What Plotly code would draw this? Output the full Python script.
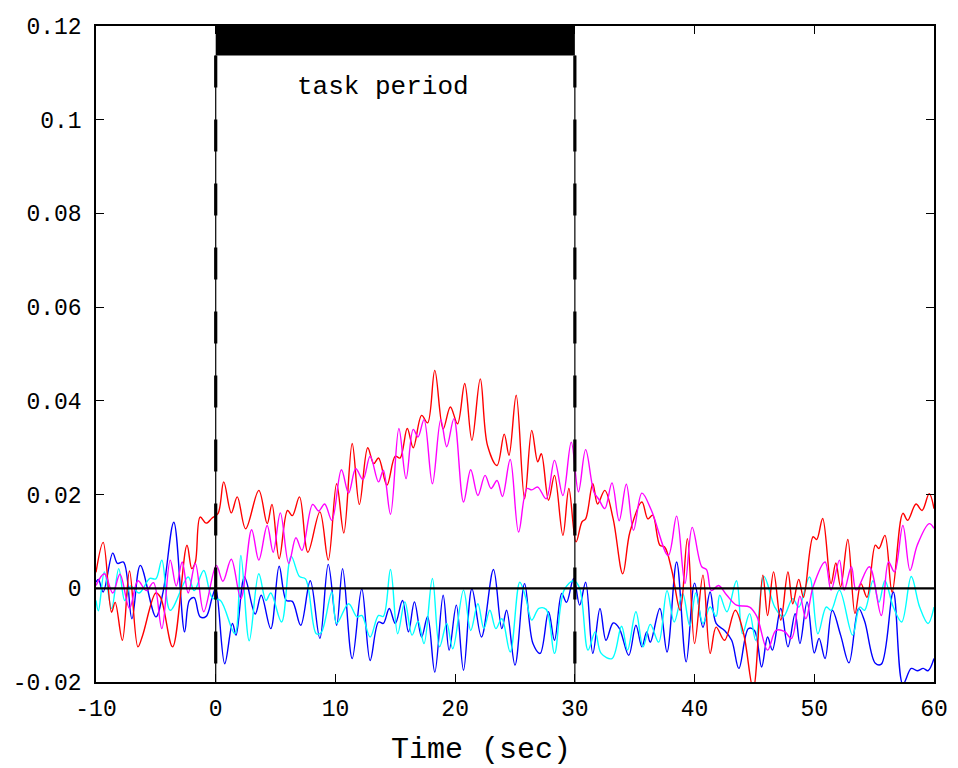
import plotly.graph_objects as go

# ---------------- data ----------------
task_start = 0
task_end = 30
task_label = "task period"
x_label = "Time (sec)"

x_ticks = [-10, 0, 10, 20, 30, 40, 50, 60]
y_ticks = [-0.02, 0, 0.02, 0.04, 0.06, 0.08, 0.1, 0.12]
y_ticktext = ["-0.02", "0", "0.02", "0.04", "0.06", "0.08", "0.1", "0.12"]

red_t = [-10.0, -9.4, -8.7, -8.4, -7.8, -7.2, -6.5, -6.1, -5.0, -4.6, -3.6, -2.4, -2.0, -1.7, -1.3, -0.8, -0.3, 0.2,
         0.67, 1.3, 1.8, 2.5, 3.6, 4.3, 4.7, 5.3, 6.0, 6.4, 7.0, 7.7, 8.7, 9.4, 10.1, 10.7, 11.4, 12.0, 12.7, 13.2,
         13.6, 14.3, 15.0, 15.4, 16.0, 16.5, 17.2, 17.7, 18.3, 19.0, 19.6, 20.2, 20.8, 21.4, 22.1, 22.7, 23.5, 24.1,
         24.5, 25.1, 25.8, 26.4, 26.9, 27.2, 27.8, 28.3, 29.0, 29.5, 30.1, 30.6, 30.9, 31.5, 31.9, 32.5, 33.2, 34.0,
         34.6, 35.6, 36.1, 36.5, 37.1, 37.5, 38.1, 38.8, 39.4, 40.0, 40.7, 41.3, 41.8, 42.5, 43.4, 44.1, 44.9, 45.7,
         46.1, 46.6, 47.2, 47.8, 48.2, 48.7, 49.1, 49.9, 50.2, 50.7, 51.4, 51.8, 52.2, 52.8, 53.4, 53.9, 54.4, 55.1,
         55.4, 55.9, 56.5, 57.4, 57.8, 58.5, 59.0, 59.6, 60.0]
red_v = [0.0034, 0.0098, -0.0051, -0.0030, -0.0111, 0.0037, -0.0125, -0.0100, -0.0010, -0.0020, -0.0125, 0.0092,
         0.0042, 0.0056, 0.0152, 0.0139, 0.0150, 0.0160,
         0.0227, 0.0161, 0.0195, 0.0127, 0.0209, 0.0138, 0.0179, 0.0063, 0.0166, 0.0155, 0.0195, 0.0077, 0.0163,
         0.0060, 0.0223, 0.0118, 0.0309, 0.0179, 0.0300, 0.0266,
         0.0278, 0.0220, 0.0282, 0.0278, 0.0341, 0.0300, 0.0369, 0.0353, 0.0465, 0.0340, 0.0387, 0.0351, 0.0437,
         0.0316, 0.0447, 0.0305, 0.0262, 0.0329,
         0.0284, 0.0412, 0.0191, 0.0337, 0.0270, 0.0287, 0.0188, 0.0241, 0.0113, 0.0213, 0.0099, 0.0142, 0.0148,
         0.0223, 0.0180, 0.0209, 0.0148, 0.0031,
         0.0120, 0.0184, 0.0148, 0.0156, 0.0092, 0.0088, 0.0038, -0.0047, 0.0106, -0.0118, 0.0028, -0.0139, -0.0083,
         -0.0111, -0.0047, -0.0097, -0.0215, 0.0028,
         -0.0058, 0.0035, -0.0068, 0.0035, -0.0033, 0.0019, -0.0019, 0.0110, 0.0104, 0.0149, 0.0010, 0.0054, 0.0003,
         0.0104, -0.0054, 0.0010, -0.0019, 0.0092,
         0.0085, 0.0113, -0.0008, 0.0160, 0.0145, 0.0180, 0.0166, 0.0202, 0.0170]

magenta_t = [-10.0, -9.3, -8.6, -8.0, -7.2, -6.5, -5.8, -5.2, -4.5, -3.8, -3.3, -2.8, -2.3, -1.7, -1.0, 0.05, 0.6,
             1.3, 2.1, 3.0, 3.6, 4.3, 4.8, 5.4, 6.1, 6.7, 7.2, 8.1, 8.6, 9.1, 9.7, 10.5, 11.1, 11.7, 12.3, 12.9,
             13.6, 14.0, 14.6, 15.3, 15.9, 16.5, 16.9, 17.4, 18.1, 18.8, 19.3, 19.9, 20.7, 21.3, 21.9, 22.5, 23.0,
             23.5, 23.95, 24.6, 25.3, 26.0, 26.4, 26.9, 27.6, 28.3, 29.0, 29.7, 30.3, 30.9, 31.6, 32.0, 32.5, 33.1,
             33.7, 34.3, 34.9, 35.6, 36.4, 37.8, 38.5, 39.2, 39.8, 40.6, 41.0, 41.4, 42.0, 42.7, 43.5, 44.6, 45.2,
             46.1, 46.8, 47.5, 48.1, 48.8, 49.3, 49.9, 50.9, 51.4, 52.1, 52.5, 53.1, 53.5, 54.6, 55.6, 56.2, 56.7,
             57.4, 58.0, 58.6, 59.6, 60.0]
magenta_v = [0.0006, 0.0031, -0.0010, 0.0030, -0.0043, 0.0016, -0.0005, 0.0012, -0.0086, 0.0060, 0.0005, 0.0056,
             -0.0010, 0.0053, -0.0050, 0.0049, 0.0015,
             0.0062, -0.0022, 0.0125, 0.0060, 0.0134, 0.0077, 0.0161, 0.0053, 0.0108, 0.0081, 0.0179, 0.0165, 0.0180,
             0.0145, 0.0253, 0.0203, 0.0255, 0.0232, 0.0282,
             0.0227, 0.0252, 0.0158, 0.0341, 0.0234, 0.0339, 0.0323, 0.0360, 0.0223, 0.0360, 0.0302, 0.0362, 0.0184,
             0.0253, 0.0198, 0.0241, 0.0213,
             0.0230, 0.0196, 0.0275, 0.0120, 0.0213, 0.0210, 0.0216, 0.0191, 0.0273, 0.0198, 0.0312, 0.0206, 0.0296,
             0.0205, 0.0190, 0.0170, 0.0225,
             0.0144, 0.0222, 0.0124, 0.0203, 0.0166, 0.0070, 0.0154, 0.0010, 0.0130, 0.0046, 0.0040, -0.0005, 0.0006,
             -0.0015, -0.0036, -0.0040, -0.0060,
             -0.0132, -0.0090, -0.0092, -0.0107, -0.0017, -0.0065, 0.0003, 0.0056, -0.0004, 0.0060, -0.0004, 0.0046,
             -0.0004, 0.0046, -0.0058, 0.0056, 0.0035,
             0.0134, 0.0038, 0.0092, 0.0138, 0.0128]

blue_t = [-10.0, -9.8, -9.4, -8.6, -8.2, -7.7, -7.0, -6.3, -5.0, -4.4, -3.5, -2.6, -2.2, -1.8, -1.3, -0.8, -0.3, 0.0,
          0.75, 1.4, 1.7, 2.4, 3.3, 3.8, 4.6, 5.3, 5.9, 6.4, 7.1, 7.9, 8.7, 9.4, 10.1, 10.6, 11.4, 12.2, 12.9, 13.6,
          14.0, 14.5, 15.0, 15.6, 16.1, 16.6, 17.2, 17.7, 18.3, 19.0, 19.5, 20.1, 20.7, 21.4, 22.2, 23.2, 23.9, 24.3,
          25.0, 25.8, 26.5, 27.1, 27.8, 28.3, 28.9, 29.3, 29.9, 30.4, 30.9, 31.5, 32.1, 32.6, 33.2, 33.7, 34.5, 35.1,
          35.6, 36.0, 36.3, 37.1, 37.7, 38.5, 39.3, 40.0, 40.7, 41.3, 41.8, 42.5, 43.1, 43.7, 44.5, 45.0, 45.6, 46.1,
          46.5, 47.2, 47.8, 48.4, 48.8, 49.4, 50.0, 50.4, 50.9, 51.5, 52.2, 52.9, 53.7, 54.2, 55.1, 55.6, 56.6, 57.4,
          58.1, 58.6, 59.1, 59.5, 60.0]
blue_v = [0.0013, 0.0019, -0.0008, 0.0075, 0.0053, 0.0056, -0.0065, 0.0049, -0.0061, -0.0008, 0.0141, -0.0093,
          -0.0026, -0.0020, -0.0061, -0.0060, -0.0020, 0.0000,
          -0.0161, -0.0075, -0.0100, 0.0024, -0.0055, -0.0015, -0.0086, 0.0047, -0.0026, -0.0028, -0.0079, 0.0016,
          -0.0107, 0.0051, -0.0079, 0.0042, -0.0150, -0.0001, -0.0154, -0.0072,
          -0.0075, -0.0043, -0.0075, -0.0026, -0.0093, -0.0029, -0.0104, -0.0060, -0.0179, -0.0015, -0.0132, -0.0036,
          -0.0175, -0.0001, -0.0104, 0.0040, -0.0086, -0.0047,
          -0.0164, 0.0010, -0.0118, -0.0139, -0.0050, -0.0111, -0.0011, -0.0030, 0.0021, -0.0036, 0.0013, -0.0139,
          -0.0043, -0.0111, -0.0074, -0.0085, -0.0143, -0.0079,
          -0.0125, -0.0093, -0.0115, -0.0043, -0.0136, 0.0056, -0.0157, 0.0011, -0.0083, -0.0008, -0.0075, -0.0090,
          -0.0111, -0.0171, -0.0086, -0.0090, -0.0168, -0.0104,
          -0.0132, -0.0043, -0.0125, -0.0054, -0.0118, -0.0029, -0.0138, -0.0107, -0.0150, -0.0047, -0.0100, -0.0159,
          -0.0043, -0.0070, -0.0160, -0.0162, -0.0008, -0.0205,
          -0.0171, -0.0176, -0.0171, -0.0176, -0.0150]

cyan_t = [-10.0, -9.8, -9.3, -8.7, -8.1, -7.6, -7.1, -6.4, -5.5, -5.0, -4.5, -3.8, -2.3, -1.8, -1.0, -0.3, 0.4, 1.6,
          2.1, 2.8, 3.6, 4.2, 4.6, 5.5, 6.3, 7.0, 7.5, 8.4, 8.8, 9.7, 10.1, 11.1, 11.8, 12.2, 12.9, 13.6, 14.0, 14.6,
          15.2, 15.8, 16.4, 16.9, 17.4, 18.1, 18.7, 19.3, 19.8, 20.7, 21.3, 21.9, 22.4, 22.9, 23.4, 23.9, 24.6, 25.4,
          25.9, 26.4, 27.0, 27.6, 28.3, 29.1, 29.9, 30.4, 31.1, 31.7, 32.2, 33.1, 33.9, 34.4, 35.1, 35.7, 36.3, 37.0,
          37.7, 38.3, 39.0, 39.6, 40.1, 40.7, 41.3, 41.8, 42.1, 42.7, 43.5, 44.0, 44.6, 45.1, 45.8, 46.7, 47.4, 48.2,
          48.7, 49.6, 50.3, 51.0, 51.4, 52.1, 53.2, 53.8, 54.2, 54.9, 55.4, 55.9, 56.6, 57.3, 58.1, 58.8, 59.5, 60.0]
cyan_v = [-0.0026, -0.0048, 0.0035, -0.0043, 0.0042, -0.0026, 0.0005, -0.0010, 0.0021, 0.0020, 0.0060, -0.0047,
          0.0024, -0.0005, 0.0038, -0.0020, -0.0026, -0.0097,
          0.0070, -0.0112, 0.0031, -0.0026, -0.0010, -0.0072, 0.0068, 0.0025, 0.0020, -0.0097, -0.0095, -0.0008,
          -0.0075, -0.0033, -0.0061, -0.0058, -0.0104, -0.0058, -0.0060, 0.0040,
          -0.0097, -0.0029, -0.0100, -0.0070, -0.0118, 0.0021, -0.0125, -0.0075, -0.0129, -0.0004, -0.0090, -0.0033,
          -0.0086, -0.0047, -0.0086, -0.0065, -0.0136, 0.0013,
          -0.0020, -0.0068, -0.0043, -0.0045, -0.0139, -0.0004, 0.0016, 0.0000, -0.0132, -0.0093, -0.0139, -0.0150,
          -0.0081, -0.0132, -0.0050, -0.0125, -0.0077, -0.0115,
          -0.0005, -0.0072, -0.0011, -0.0080, -0.0010, -0.0075, -0.0040, -0.0060, -0.0015, -0.0050, 0.0016, -0.0097,
          -0.0054, -0.0111, 0.0025, -0.0040, -0.0061, -0.0022,
          -0.0040, 0.0024, -0.0097, -0.0040, -0.0047, -0.0004, -0.0100, -0.0040, -0.0047, 0.0016, -0.0030, 0.0016,
          -0.0040, -0.0072, 0.0025, -0.0040, -0.0075, -0.0040]

x_range = [-10, 60]
y_range = [-0.02, 0.12]
bar_bottom = 0.1137

# ---------------- figure ----------------
FONT = "Liberation Mono, DejaVu Sans Mono, monospace"
fig = go.Figure()

series = [
    (blue_t, blue_v, "#0000FF"),
    (cyan_t, cyan_v, "#00FFFF"),
    (red_t, red_v, "#FF0000"),
    (magenta_t, magenta_v, "#FF00FF"),
]
for t, v, c in series:
    fig.add_trace(go.Scatter(x=t, y=v, mode="lines", line=dict(color=c, width=1.4, shape="spline", smoothing=1.0),
                             showlegend=False, hoverinfo="skip"))

# zero line
fig.add_trace(go.Scatter(x=x_range, y=[0, 0], mode="lines", line=dict(color="black", width=2.2),
                         showlegend=False, hoverinfo="skip"))

# task period markers: thin solid + thick dashed vertical lines (drawn top-down)
for xv in (task_start, task_end):
    fig.add_trace(go.Scatter(x=[xv, xv], y=[bar_bottom, y_range[0]], mode="lines",
                             line=dict(color="black", width=1.2), showlegend=False, hoverinfo="skip"))
    fig.add_trace(go.Scatter(x=[xv, xv], y=[bar_bottom, y_range[0]], mode="lines",
                             line=dict(color="black", width=3.2, dash="32px,32px"),
                             showlegend=False, hoverinfo="skip"))

# black task bar
fig.add_shape(type="rect", xref="x", yref="y", x0=task_start, x1=task_end, y0=bar_bottom, y1=y_range[1],
              fillcolor="black", line=dict(width=0), layer="above")

fig.add_annotation(x=(task_start + task_end) / 2 - 1.0, y=0.107, xref="x", yref="y", text=task_label,
                   showarrow=False, font=dict(family=FONT, size=26, color="black"))

fig.add_annotation(x=0.459, y=-0.1037, xref="paper", yref="paper", text=x_label, showarrow=False,
                   font=dict(family=FONT, size=30, color="black"), yanchor="middle")

axis_common = dict(showline=True, linecolor="black", linewidth=1.5, mirror="allticks", ticks="inside",
                   ticklen=8, tickwidth=1.2, tickcolor="black", showgrid=False, zeroline=False,
                   automargin=False, tickfont=dict(family=FONT, size=23, color="black"))

fig.update_xaxes(range=x_range, tickvals=x_ticks, ticktext=[str(v) for v in x_ticks],
                 ticklabelstandoff=5, **axis_common)
fig.update_yaxes(range=y_range, tickvals=y_ticks, ticktext=y_ticktext, ticklabelstandoff=8, **axis_common)

fig.update_layout(width=950, height=760, margin=dict(l=88, r=24, t=18, b=86),
                  paper_bgcolor="white", plot_bgcolor="white")

fig.write_html("out.html")
